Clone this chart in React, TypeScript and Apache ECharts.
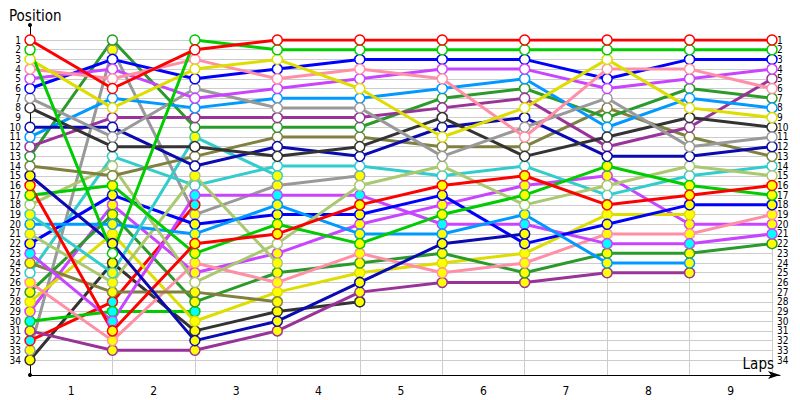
import React, { useEffect, useRef } from 'react';
import * as echarts from 'echarts';

// Lap labels shown between the columns, and the lap columns (0 = start)
const lapLabels = ['1', '2', '3', '4', '5', '6', '7', '8', '9'];
const lapPoints = [0, 1, 2, 3, 4, 5, 6, 7, 8, 9];
// Position range shown on both sides
const firstPosition = 1;
const lastPosition = 34;

// Positions per column (start, after lap 1 ... after lap 9)
const red1 = [1, 6, 2, 1, 1, 1, 1, 1, 1, 1];
const green1 = [2, 23, 1, 2, 2, 2, 2, 2, 2, 2];
const yellow1 = [3, 8, 4, 3, 6, 11, 8, 3, 8, 9];
const pink1 = [4, 5, 3, 5, 4, 5, 11, 4, 4, 6];
const violet1 = [5, 4, 7, 6, 5, 4, 4, 6, 5, 4];
const blue1 = [6, 3, 5, 4, 3, 3, 3, 5, 3, 3];
const gray1 = [7, 11, 6, 8, 8, 13, 10, 7, 12, 11];
const black1 = [8, 12, 12, 13, 12, 9, 13, 11, 9, 10];
const navy1 = [10, 10, 14, 12, 13, 10, 9, 13, 13, 12];
const skyblue1 = [11, 7, 8, 7, 7, 6, 5, 10, 7, 8];
const purple1 = [12, 9, 9, 9, 9, 8, 7, 12, 10, 5];
const darkgreen1 = [13, 1, 10, 10, 10, 7, 6, 9, 6, 7];
const olive1 = [14, 15, 13, 11, 11, 12, 12, 8, 11, 13];
const navy2 = [15, 22, 32, 30, 26, 22, 21];
const red2 = [16, 31, 22, 21, 18, 16, 15, 18, 17, 16];
const green2 = [17, 16, 23, 20, 22, 19, 17, 14, 16, 17];
const lime1 = [18, 14, 26, 22, 16, 14, 18, 16, 14, 15];
const teal1 = [19, 25, 11, 15];
const skyblue2 = [20, 20, 21, 18, 21, 21, 19, 24, 24];
const lime2 = [21, 26, 15, 24];
const blue2 = [22, 17, 20, 19, 19, 17, 22, 20, 18, 18];
const violet2 = [23, 30, 17, 17, 17, 20, 20, 22, 22, 21];
const olive2 = [24, 27, 27, 28];
const teal2 = [25, 13, 16, 14, 14, 15, 14, 17, 15, 14];
const pink2 = [26, 32, 24, 26, 23, 25, 24, 21, 21, 19];
const darkgreen2 = [27, 19, 28, 25, 24, 23, 25, 23, 23, 22];
const yellow2 = [28, 21, 30, 27, 25, 24, 23, 19, 19];
const violet3 = [29, 18, 25, 23, 20, 18, 16, 15, 20, 20];
const green3 = [30, 29, 29];
const purple2 = [31, 33, 33, 31, 27, 26, 26, 25, 25];
const red3 = [32, 28, 18];
const gray2 = [33, 2, 19, 16, 15];
const black2 = [34, 24, 31, 29, 28];

const W = '#ffffff';
const Y = '#ffff00';
const C = '#00ffff';

const RED = '#ff0000';
const GREEN = '#00cc00';
const BLUE = '#0000ff';
const NAVY = '#0a0ab0';
const VIOLET = '#c844ff';
const PURPLE = '#993399';
const PINK = '#ff8fa6';
const DKGREEN = '#2a9a2a';
const SKY = '#0099ff';
const YELLOW = '#dddd00';
const BLACK = '#333333';
const GRAY = '#999999';
const OLIVE = '#808040';
const TEAL = '#33cccc';
const LIME = '#aac870';

const drivers = [
  { pos: black2, color: BLACK, fill: Y },
  { pos: gray2, color: GRAY, fill: Y },
  { pos: red3, color: RED, fill: C },
  { pos: purple2, color: PURPLE, fill: Y },
  { pos: green3, color: GREEN, fill: C },
  { pos: violet3, color: VIOLET, fill: Y },
  { pos: yellow2, color: YELLOW, fill: Y },
  { pos: darkgreen2, color: DKGREEN, fill: Y },
  { pos: pink2, color: PINK, fill: Y },
  { pos: teal2, color: TEAL, fill: W },
  { pos: olive2, color: OLIVE, fill: Y },
  { pos: violet2, color: VIOLET, fill: C },
  { pos: blue2, color: BLUE, fill: Y },
  { pos: lime2, color: LIME, fill: Y },
  { pos: skyblue2, color: SKY, fill: Y },
  { pos: teal1, color: TEAL, fill: Y },
  { pos: lime1, color: LIME, fill: W },
  { pos: green2, color: GREEN, fill: Y },
  { pos: red2, color: RED, fill: Y },
  { pos: navy2, color: NAVY, fill: Y },
  { pos: olive1, color: OLIVE, fill: W },
  { pos: darkgreen1, color: DKGREEN, fill: W },
  { pos: purple1, color: PURPLE, fill: W },
  { pos: skyblue1, color: SKY, fill: W },
  { pos: navy1, color: NAVY, fill: W },
  { pos: black1, color: BLACK, fill: W },
  { pos: gray1, color: GRAY, fill: W },
  { pos: blue1, color: BLUE, fill: W },
  { pos: violet1, color: VIOLET, fill: W },
  { pos: pink1, color: PINK, fill: W },
  { pos: yellow1, color: YELLOW, fill: W },
  { pos: green1, color: GREEN, fill: W },
  { pos: red1, color: RED, fill: W },
];

const FONT = 'Tahoma, "DejaVu Sans Condensed", "DejaVu Sans", sans-serif';

// plot geometry
const PLOT_LEFT = 30;
const PLOT_WIDTH = 742;
const PLOT_TOP = 40;
const PLOT_HEIGHT = 320;
const STEP = PLOT_HEIGHT / (lastPosition - firstPosition);

export default function App() {
  const ref = useRef<HTMLDivElement>(null);
  useEffect(() => {
    if (!ref.current) return;
    const chart = echarts.init(ref.current, null, { renderer: 'svg' });
    const series = drivers.map((d) => ({
      type: 'line',
      xAxisIndex: 0,
      yAxisIndex: 0,
      data: d.pos.map((p, i) => [lapPoints[i], p]),
      symbol: 'circle',
      symbolSize: 10,
      showSymbol: true,
      lineStyle: { color: d.color, width: 3 },
      itemStyle: { color: d.fill, borderColor: d.color, borderWidth: 1.5 },
      emphasis: { disabled: true },
      silent: true,
      z: 3,
    }));
    const posLabel = {
      fontFamily: FONT,
      fontSize: 10,
      lineHeight: 8,
      color: '#000',
      showMinLabel: false,
      showMaxLabel: false,
      formatter: (v: number) => (v >= firstPosition && v <= lastPosition ? String(v) : ''),
    };
    chart.setOption({
      animation: false,
      backgroundColor: '#ffffff',
      grid: [
        { left: PLOT_LEFT, width: PLOT_WIDTH, top: PLOT_TOP, height: PLOT_HEIGHT },
        { left: PLOT_LEFT, width: 750, top: 25, height: 350 },
        { left: PLOT_LEFT, width: PLOT_WIDTH, top: PLOT_TOP, height: 335 },
        { left: PLOT_LEFT, width: PLOT_WIDTH, top: PLOT_TOP - STEP, height: PLOT_HEIGHT + 2 * STEP },
      ],
      xAxis: [
        { gridIndex: 0, type: 'value', min: 0, max: 9, interval: 1, show: false },
        {
          gridIndex: 1, type: 'value', min: 0, max: 1,
          axisLine: { show: true, lineStyle: { color: '#000', width: 1 }, symbol: ['none', 'arrow'], symbolSize: [6, 12] },
          axisTick: { show: false }, axisLabel: { show: false }, splitLine: { show: false },
          name: 'Laps', nameLocation: 'end', nameGap: -6,
          nameTextStyle: { fontFamily: FONT, fontSize: 15, color: '#000', align: 'right', verticalAlign: 'bottom', padding: [0, 0, 4, 0] },
        },
        {
          gridIndex: 2, type: 'category', data: lapLabels, boundaryGap: true,
          axisLine: { show: false }, axisTick: { show: false },
          axisLabel: { margin: 10, fontFamily: FONT, fontSize: 12, color: '#000' },
          splitLine: { show: true, interval: 0, lineStyle: { color: '#cccccc', width: 1 } },
        },
        { gridIndex: 3, type: 'value', min: 0, max: 1, show: false },
      ],
      yAxis: [
        {
          gridIndex: 0, type: 'value', inverse: true, min: firstPosition, max: lastPosition, interval: 1,
          axisLine: { show: false }, axisTick: { show: false }, axisLabel: { show: false },
          splitLine: { show: true, lineStyle: { color: '#cccccc', width: 1 } },
        },
        {
          gridIndex: 3, type: 'value', inverse: true, min: firstPosition - 1, max: lastPosition + 1, interval: 1,
          axisLine: { show: false }, axisTick: { show: false },
          axisLabel: { ...posLabel, margin: 9 },
          splitLine: { show: false },
        },
        {
          gridIndex: 3, type: 'value', inverse: true, min: firstPosition - 1, max: lastPosition + 1, interval: 1, position: 'right',
          axisLine: { show: false }, axisTick: { show: false },
          axisLabel: { ...posLabel, margin: 5 },
          splitLine: { show: false },
        },
        {
          gridIndex: 1, type: 'value', min: 0, max: 1,
          axisLine: { show: true, lineStyle: { color: '#000', width: 1 }, symbol: ['circle', 'circle'], symbolSize: [4, 4] },
          axisTick: { show: false }, axisLabel: { show: false }, splitLine: { show: false },
          name: 'Position', nameLocation: 'end', nameGap: 2,
          nameTextStyle: { fontFamily: FONT, fontSize: 15, color: '#000', align: 'left', padding: [0, 0, 0, -21] },
        },
        { gridIndex: 2, type: 'value', show: false },
      ],
      series,
    });
    return () => chart.dispose();
  }, []);
  return <div ref={ref} style={{ position: 'fixed', left: 0, top: 0, width: 800, height: 400 }} />;
}
